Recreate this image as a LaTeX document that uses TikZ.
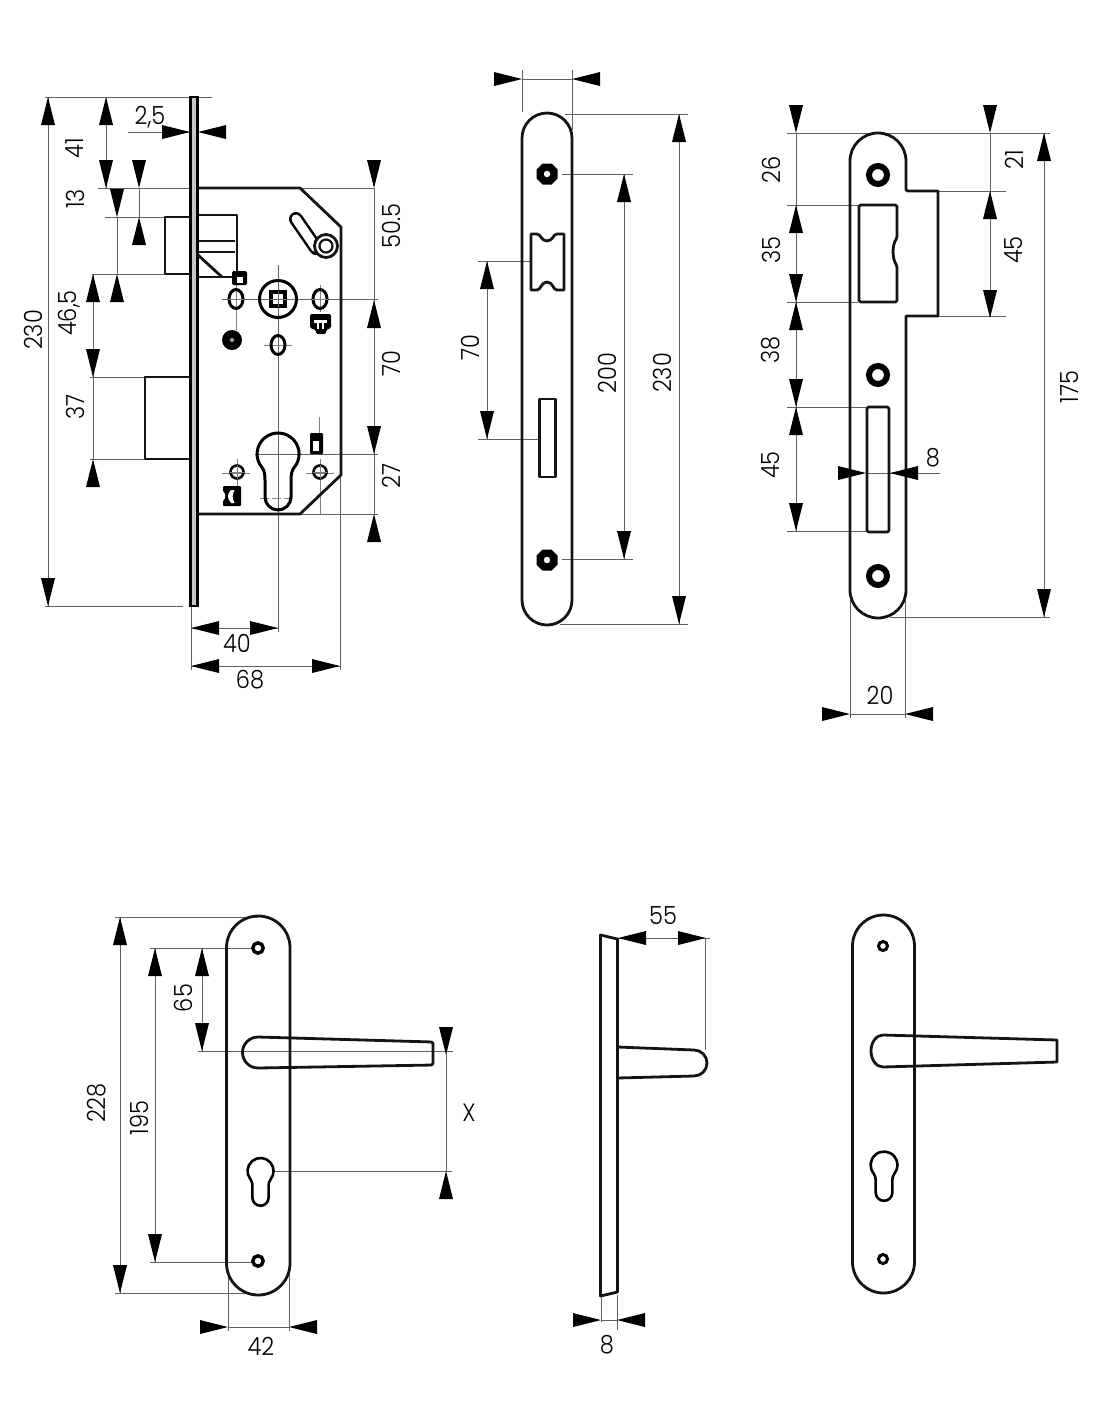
\documentclass[tikz,border=0pt]{standalone}
\usepackage{fontspec}
\setmainfont{Poppins Light}[FakeStretch=0.9]
\newcommand{\tipU}[2]{\fill[black] (#1,#2) -- (#1-7,#2+28) -- (#1+7,#2+28) -- cycle;}
\newcommand{\tipD}[2]{\fill[black] (#1,#2) -- (#1-7,#2-28) -- (#1+7,#2-28) -- cycle;}
\newcommand{\tipL}[2]{\fill[black] (#1,#2) -- (#1+28,#2-7) -- (#1+28,#2+7) -- cycle;}
\newcommand{\tipR}[2]{\fill[black] (#1,#2) -- (#1-28,#2-7) -- (#1-28,#2+7) -- cycle;}
\newcommand{\labV}[4]{\node[lab,rotate=90] (#1) at (#2,#3) {#4};}
\newcommand{\labH}[4]{\node[lab] (#1) at (#2,#3) {#4};}
% stadium: x1 x2 ytop ybottom r
\newcommand{\stadium}[5]{\draw[obj] (#1,#3+#5) arc[start angle=180,end angle=360,radius=#5 pt] -- (#2,#4-#5) arc[start angle=0,end angle=180,radius=#5 pt] -- cycle;}
% keyhole: cx cy scale line width
\newcommand{\keyh}[4]{\begin{scope}[shift={(#1,#2)},scale=#3]
\draw[line width=#4pt,line join=round] (-16,13.5) arc[start angle=140,end angle=400,radius=21pt] .. controls (14,16) and (13,20) .. (13,26) -- (13,43) arc[start angle=0,end angle=180,radius=13pt] -- (-13,26) .. controls (-13,20) and (-14,16) .. (-16,13.5) -- cycle;
\end{scope}}
% octagonal screw hole
\newcommand{\octo}[2]{\begin{scope}[shift={(#1,#2)}]
\fill[black] (-4.5,-10.5) -- (4.5,-10.5) -- (10.5,-4.5) -- (10.5,4.5) -- (4.5,10.5) -- (-4.5,10.5) -- (-10.5,4.5) -- (-10.5,-4.5) -- cycle;
\fill[white] (0,0) circle[radius=3.2pt];
\end{scope}}
\tikzset{
  obj/.style={line width=2.8pt,line join=round,draw=black!92},
  thinobj/.style={line width=2.2pt,line join=round,draw=black!92},
  dim/.style={line width=0.7pt,draw=black!62},
  cen/.style={line width=0.7pt,draw=black!50},
  lab/.style={font=\fontsize{25}{25}\selectfont,inner sep=0pt,text=black}
}
\begin{document}
\begin{tikzpicture}[x=1pt,y=1pt,yscale=-1]
\useasboundingbox (0,0) rectangle (1100,1422);
\fill[white] (0,0) rectangle (1100,1422);

% ===== LOCK BODY =====
\draw[dim] (45,97) -- (212,97) (45,606) -- (183,606) (48,97) -- (48,606);
\draw[dim] (98,188) -- (375,188) (106,97) -- (106,188);
\draw[dim] (105,217) -- (165,217) (92,274) -- (165,274) (117,217) -- (117,274);
\draw[dim] (139,188) -- (139,217);
\draw[dim] (90,377) -- (145,377) (90,459) -- (145,459) (93,274) -- (93,459);
\draw[dim] (128,132) -- (190,132);
\draw[dim] (374,188) -- (374,514);
\draw[dim] (222,299) -- (378,299) (255,454) -- (378,454) (300,514) -- (378,514);
\draw[dim] (191,606) -- (191,670) (278,265) -- (278,632) (340,475) -- (340,670);
\draw[dim] (191,628) -- (278,628) (191,666) -- (340,666);
\draw[cen] (236,285) -- (236,330) (320,285) -- (320,312);
\draw[cen] (319,417) -- (319,433) (320,459) -- (320,514);
\draw[cen] (222,473) -- (250,473) (306,473) -- (334,473) (237,459) -- (237,486);
\draw[cen] (264,345) -- (292,345);
\draw[cen,line width=1pt,dash pattern=on 9pt off 3pt] (260,498) -- (296,498);

% face plate
\draw[line width=2.5pt,fill=black!22] (190.5,97) rectangle (197.5,606);
% case
\draw[obj] (198,188) -- (300,188) -- (341,227) -- (341,475) -- (300,514) -- (198,514);
% latch
\draw[obj] (190,217) -- (165,217) -- (165,274) -- (190,274);
\draw[obj] (198,215) -- (237,215) -- (237,272);
\draw[thinobj] (198,241) -- (235,241) (198,252) -- (235,252);
\draw[obj] (198,255) -- (222,277);
\draw[obj] (198,277) -- (233,277);
\fill[black,rounded corners=1.5pt] (232,271) rectangle (247,285);
\fill[white] (236.5,277) rectangle (243,283);
% dead bolt
\draw[obj] (190,377) -- (145,377) -- (145,459) -- (190,459);
% lever
\draw[black,line width=14pt,line cap=round] (296,219) -- (316,248);
\draw[white,line width=9pt,line cap=round] (296,219) -- (316,248);
\filldraw[obj,fill=white] (326,246) circle[radius=11.5pt];
\draw[thinobj] (326,246) circle[radius=6.5pt];
% follower
\draw[line width=3pt] (278,299) circle[radius=18.5pt];
\draw[line width=3.2pt] (271,292) rectangle (285,306);
\draw[cen,black!60] (263,299) -- (293,299) (278,291) -- (278,307);
% ovals
\draw[line width=3pt] (236,299) ellipse[x radius=7pt,y radius=9.5pt];
\draw[line width=3pt] (320,299) ellipse[x radius=7pt,y radius=9.5pt];
\draw[line width=3pt] (278,345) ellipse[x radius=7pt,y radius=9.5pt];
\draw[cen] (228,299) -- (244,299) (312,299) -- (328,299);
% black dot
\fill[black] (232,340) circle[radius=10pt];
\fill[black!35] (232,340) circle[radius=2pt];
% square block
\fill[black,rounded corners=1.5pt] (310,314) -- (331,314) -- (331,328) -- (326,330) -- (326,334) -- (316,334) -- (316,330) -- (310,328) -- cycle;
\fill[white] (314,320) rectangle (327,323);
\fill[white] (317,323) rectangle (319,329);
\fill[white] (322,323) rectangle (324,329);
% cylinder hole
\keyh{278}{454}{1}{3}
% small holes
\draw[line width=2.6pt] (237,472) circle[radius=6.5pt];
\draw[line width=2.6pt] (320,472) circle[radius=6.5pt];
\draw[cen] (230,472) -- (244,472) (237,465) -- (237,479) (313,472) -- (327,472) (320,465) -- (320,479);
% upper small rect
\fill[black,rounded corners=1pt] (310,433) rectangle (323,454);
\fill[white] (313,441) rectangle (319,451);
% lower small shape
\fill[black,rounded corners=1pt] (223,486) -- (241,486) -- (241,506) -- (223,506) -- cycle;
\fill[white] (223,491) .. controls (226,494) and (226,498) .. (223,501) -- cycle;
\fill[white] (231,490) .. controls (227,495) and (227,498) .. (231,503) -- (234.5,503) .. controls (232,498) and (232,495) .. (234.5,490) -- cycle;

% tips
\tipU{48}{97} \tipD{48}{606}
\tipU{106}{97} \tipD{106}{188}
\tipD{139}{188} \tipU{139}{217}
\tipD{117}{217} \tipU{117}{274}
\tipU{93}{274} \tipD{93}{377} \tipU{93}{459}
\tipR{190}{132} \tipL{198}{132}
\tipD{374}{188} \tipU{374}{300} \tipD{374}{454} \tipU{374}{514}
\tipL{191}{628} \tipR{278}{628}
\tipL{191}{666} \tipR{340}{666}
% labels
\labV{a230}{33}{330}{230}
\labV{a41}{75}{148}{41}
\labV{a13}{75}{199}{13}
\labV{a465}{69}{313}{46,5}
\labV{a37}{75}{407}{37}
\labH{a25}{150}{117}{2,5}
\labV{a505}{391}{226}{50.5}
\labV{a70}{391}{364}{70}
\labV{a27}{391}{476}{27}
\labH{a40}{237}{643}{40}
\labH{a68}{250}{680}{68}

% ===== MIDDLE PLATE =====
\draw[dim] (522,70) -- (522,112) (572,70) -- (572,130) (522,79) -- (572,79);
\draw[dim] (565,114) -- (688,114) (560,624) -- (688,624) (679,114) -- (679,624);
\draw[dim] (562,174) -- (633,174) (562,559) -- (633,559) (624,174) -- (624,559);
\draw[dim] (478,261) -- (531,261) (478,439) -- (539,439) (487,261) -- (487,439);
\stadium{522}{572}{113}{625}{25}
\octo{547}{174}
\octo{547}{560}
\draw[obj] (531,234) -- (537,234) .. controls (541,234) and (541,241) .. (547,241) .. controls (553,241) and (553,234) .. (557,234) -- (564,234) -- (564,290) -- (557,290) .. controls (553,290) and (553,282) .. (547,282) .. controls (541,282) and (541,290) .. (537,290) -- (531,290) -- cycle;
\draw[obj] (539.5,399) rectangle (555.5,477);
\tipR{522}{79} \tipL{572}{79}
\tipU{679}{114} \tipD{679}{624}
\tipU{624}{174} \tipD{624}{559}
\tipU{487}{261} \tipD{487}{439}
\labV{b70}{470}{348}{70}
\labV{b200}{607}{373}{200}
\labV{b230}{662}{373}{230}

% ===== RIGHT PLATE =====
\draw[dim] (787,133) -- (1050,133) (787,205) -- (858,205) (787,302) -- (858,302) (787,407) -- (866,407) (787,531) -- (866,531);
\draw[dim] (796,133) -- (796,531);
\draw[dim] (938,191) -- (1006,191) (938,316) -- (1006,316) (990,133) -- (990,316);
\draw[dim] (890,617) -- (1050,617) (1044,133) -- (1044,617);
\draw[dim] (850,600) -- (850,718) (905,600) -- (905,718) (850,714) -- (905,714);
\draw[dim] (866,473) -- (940,473);
\draw[obj] (850,161) arc[start angle=180,end angle=360,radius=28pt] -- (906,189) arc[start angle=180,end angle=90,radius=2pt] -- (938,191) -- (938,316) -- (906,316) -- (906,590) arc[start angle=0,end angle=180,radius=28pt] -- cycle;
\draw[line width=6pt] (878,175) circle[radius=9pt];
\draw[line width=6pt] (878,375) circle[radius=9pt];
\draw[line width=6pt] (878,576) circle[radius=9pt];
\draw[obj,rounded corners=1.5pt] (859,205) -- (897,205) -- (897,238) .. controls (892,245) and (892,258) .. (897,266) -- (897,302) -- (859,302) -- cycle;
\draw[obj,rounded corners=1.5pt] (867,407) rectangle (889,532);
\tipD{796}{133} \tipU{796}{205} \tipD{796}{302} \tipU{796}{302} \tipD{796}{407} \tipU{796}{407} \tipD{796}{531}
\tipD{990}{133} \tipU{990}{191} \tipD{990}{318}
\tipU{1044}{133} \tipD{1044}{617}
\tipR{850}{714} \tipL{905}{714}
\tipR{866}{473} \tipL{890}{473}
\labV{c26}{771}{170}{26}
\labV{c35}{771}{250}{35}
\labV{c38}{771}{350}{38}
\labV{c45}{771}{465}{45}
\labV{c21}{1014}{160}{21}
\labV{c45b}{1014}{250}{45}
\labV{c175}{1070}{387}{175}
\labH{c8}{933}{458}{8}
\labH{c20}{880}{695}{20}

% ===== HANDLE, FRONT =====
\draw[dim] (115,917) -- (258,917) (115,1293) -- (255,1293) (120,917) -- (120,1293);
\draw[dim] (150,948) -- (252,948) (150,1262) -- (252,1262) (155,948) -- (155,1262);
\draw[dim] (198,1051) -- (453,1051) (202,948) -- (202,1051);
\draw[dim] (273,1171) -- (452,1171) (446,1051) -- (446,1171);
\draw[dim] (228,1270) -- (228,1331) (289,1270) -- (289,1331) (228,1327) -- (289,1327);
\stadium{226.5}{290}{916}{1295}{31.75}
\draw[line width=3.4pt] (258,948) circle[radius=5.2pt];
\draw[line width=3.4pt] (258,1261) circle[radius=5.2pt];
\draw[obj,rounded corners=2pt] (258,1037) -- (433,1042) -- (433,1065) -- (258,1068);
\draw[obj] (258,1068) arc[start angle=90,end angle=270,radius=15.5pt];
\keyh{260.5}{1171}{0.62}{2.6}
\tipU{120}{917} \tipD{120}{1293}
\tipU{155}{948} \tipD{155}{1262}
\tipU{202}{948} \tipD{202}{1051}
\tipD{446}{1055} \tipU{446}{1171}
\tipR{228}{1327} \tipL{289}{1327}
\labV{d228}{97}{1103}{228}
\labV{d195}{139}{1118}{195}
\labV{d65}{183}{998}{65}
\labH{dX}{469}{1113}{X}
\labH{d42}{261}{1346}{42}

% ===== HANDLE, SIDE =====
\draw[dim] (618,938) -- (710,938) (705,938) -- (705,1050);
\draw[dim] (601,1295) -- (601,1322) (617,1295) -- (617,1330) (601,1320) -- (617,1320);
\draw[obj] (600.5,935) -- (617.5,939) -- (617.5,1292) -- (600.5,1296) -- cycle;
\draw[obj] (617.5,1047) -- (694,1050) arc[start angle=-90,end angle=90,radius=13pt] -- (617.5,1078);
\tipL{618}{938} \tipR{706}{938}
\tipR{601}{1320} \tipL{617}{1320}
\labH{e55}{663}{916}{55}
\labH{e8}{607}{1345}{8}

% ===== HANDLE, BACK =====
\stadium{852.5}{914.5}{915}{1293}{31}
\draw[line width=3pt] (883,946) circle[radius=4.5pt];
\draw[line width=3pt] (883,1259) circle[radius=4.5pt];
\draw[obj] (883,1035) -- (1057,1040) -- (1057,1062) -- (883,1067) arc[start angle=90,end angle=270,x radius=12pt,y radius=16pt];
\keyh{884}{1165}{0.64}{2.6}
\end{tikzpicture}
\end{document}
